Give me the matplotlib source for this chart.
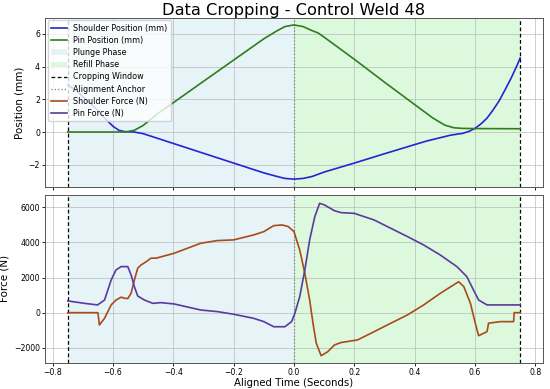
import matplotlib
matplotlib.use("Agg")
import matplotlib.pyplot as plt

# ---- data ----
shoulder_pos_t = [-0.75, -0.72, -0.69, -0.66, -0.63, -0.60, -0.58, -0.56, -0.53, -0.50,
                  -0.40, -0.30, -0.20, -0.10, -0.06, -0.03, 0.0, 0.03, 0.06, 0.10,
                  0.20, 0.30, 0.40, 0.44, 0.48, 0.52, 0.56, 0.58, 0.60, 0.62, 0.64,
                  0.66, 0.68, 0.70, 0.72, 0.74, 0.75]
shoulder_pos = [2.9, 2.5, 2.0, 1.5, 0.9, 0.35, 0.1, 0.02, 0.0, -0.1,
                -0.7, -1.3, -1.9, -2.5, -2.7, -2.84, -2.88, -2.84, -2.72, -2.45,
                -1.9, -1.33, -0.77, -0.55, -0.37, -0.19, -0.08, 0.04, 0.22, 0.5, 0.85,
                1.35, 1.9, 2.59, 3.3, 4.1, 4.53]

pin_pos_t = [-0.75, -0.56, -0.53, -0.50, -0.47, -0.45, -0.43, -0.30, -0.20, -0.10,
             -0.06, -0.03, 0.0, 0.03, 0.06, 0.08, 0.10, 0.20, 0.30, 0.40, 0.43,
             0.46, 0.50, 0.53, 0.56, 0.60, 0.75]
pin_pos = [0.0, 0.0, 0.1, 0.4, 0.85, 1.15, 1.4, 3.1, 4.4, 5.7,
           6.15, 6.45, 6.55, 6.45, 6.2, 6.06, 5.8, 4.45, 3.05, 1.68, 1.27,
           0.86, 0.42, 0.26, 0.22, 0.21, 0.2]

shoulder_force_t = [-0.75, -0.65, -0.645, -0.628, -0.606, -0.59, -0.573, -0.562, -0.551,
                    -0.54, -0.529, -0.518, -0.507, -0.49, -0.474, -0.457, -0.397, -0.309,
                    -0.254, -0.2, -0.134, -0.1, -0.067, -0.04, -0.019, 0.0, 0.019, 0.036,
                    0.052, 0.063, 0.074, 0.09, 0.112, 0.134, 0.156, 0.211, 0.266, 0.321,
                    0.376, 0.43, 0.485, 0.529, 0.546, 0.563, 0.585, 0.601, 0.612, 0.64,
                    0.645, 0.684, 0.728, 0.73, 0.75]
shoulder_force = [0, 0, -700, -320, 440, 720, 880, 820, 800,
                  1100, 1860, 2530, 2710, 2900, 3100, 3100, 3380, 3950,
                  4100, 4140, 4420, 4610, 4950, 4990, 4900, 4610, 3570, 2240,
                  720, -600, -1740, -2450, -2220, -1840, -1700, -1550, -1080, -600,
                  -130, 440, 1100, 1580, 1760, 1480, 530, -600, -1310, -1080,
                  -600, -510, -510, 0, 0]

pin_force_t = [-0.75, -0.695, -0.651, -0.628, -0.606, -0.59, -0.573, -0.551, -0.54,
               -0.529, -0.518, -0.496, -0.468, -0.441, -0.397, -0.309, -0.254, -0.2,
               -0.134, -0.1, -0.067, -0.03, -0.008, 0.003, 0.019, 0.036, 0.052, 0.069,
               0.085, 0.101, 0.134, 0.156, 0.2, 0.266, 0.321, 0.376, 0.43, 0.485,
               0.54, 0.573, 0.595, 0.612, 0.64, 0.706, 0.75]
pin_force = [670, 530, 440, 720, 1860, 2430, 2620, 2620, 2150,
             1480, 950, 720, 530, 570, 495, 150, 60, -90,
             -320, -510, -800, -800, -510, -35, 910, 2430, 4140, 5460,
             6220, 6130, 5800, 5690, 5650, 5270, 4800, 4330, 3850, 3280,
             2620, 2050, 1290, 720, 440, 440, 440]

crop_start, crop_end, anchor = -0.75, 0.75, 0.0
x_ticks = [-0.8, -0.6, -0.4, -0.2, 0.0, 0.2, 0.4, 0.6, 0.8]

# ---- figure ----
fig = plt.figure(figsize=(5.5, 3.89), dpi=100)
ax1 = fig.add_axes([0.082, 0.519, 0.905, 0.435])
ax2 = fig.add_axes([0.082, 0.067, 0.905, 0.432], sharex=ax1)

c_sp = '#2424d4'
c_pp = '#2f7d1f'
c_sf = '#a84a1a'
c_pf = '#5a3a9e'

for ax in (ax1, ax2):
    ax.axvspan(crop_start, anchor, color='lightblue', alpha=0.3, lw=0, label='Plunge Phase')
    ax.axvspan(anchor, crop_end, color='lightgreen', alpha=0.3, lw=0, label='Refill Phase')
    ax.axvline(crop_start, color='black', ls=(0, (3, 2)), lw=0.9, label='Cropping Window')
    ax.axvline(crop_end, color='black', ls=(0, (3, 2)), lw=0.9)
    ax.axvline(anchor, color='gray', ls=':', lw=0.9, label='Alignment Anchor')
    ax.grid(True, color='#b0b0b0', alpha=0.6, lw=0.7)
    ax.tick_params(labelsize=5.6, length=2.2, pad=1.5, width=0.6)
    for s in ax.spines.values():
        s.set_linewidth(0.7)
        s.set_color('#555555')

l1, = ax1.plot(shoulder_pos_t, shoulder_pos, color=c_sp, lw=1.2, label='Shoulder Position (mm)')
l2, = ax1.plot(pin_pos_t, pin_pos, color=c_pp, lw=1.2, label='Pin Position (mm)')
l3, = ax2.plot(shoulder_force_t, shoulder_force, color=c_sf, lw=1.2, label='Shoulder Force (N)')
l4, = ax2.plot(pin_force_t, pin_force, color=c_pf, lw=1.2, label='Pin Force (N)')

ax1.set_xlim(-0.825, 0.825)
ax1.set_ylim(-3.37, 6.98)
ax2.set_ylim(-2860, 6700)
ax2.set_xticks(x_ticks)
ax1.tick_params(labelbottom=False)
ax1.set_yticks([-2, 0, 2, 4, 6])
ax2.set_yticks([-2000, 0, 2000, 4000, 6000])

ax1.set_ylabel('Position (mm)', fontsize=7.5, labelpad=3)
ax2.set_ylabel('Force (N)', fontsize=7.5, labelpad=3)
ax2.set_xlabel('Aligned Time (Seconds)', fontsize=7.3, labelpad=1)
ax1.set_title('Data Cropping - Control Weld 48', fontsize=11.7, pad=2)

h1, lab1 = ax1.get_legend_handles_labels()
order = ['Shoulder Position (mm)', 'Pin Position (mm)', 'Plunge Phase', 'Refill Phase',
         'Cropping Window', 'Alignment Anchor']
hd = dict(zip(lab1, h1))
handles = [hd[k] for k in order] + [l3, l4]
labels = order + ['Shoulder Force (N)', 'Pin Force (N)']
ax1.legend(handles, labels, loc='upper left', fontsize=5.8, framealpha=0.8,
           borderpad=0.4, labelspacing=0.4, handlelength=2.0, borderaxespad=0.3)

fig.savefig('out.png', dpi=100)
